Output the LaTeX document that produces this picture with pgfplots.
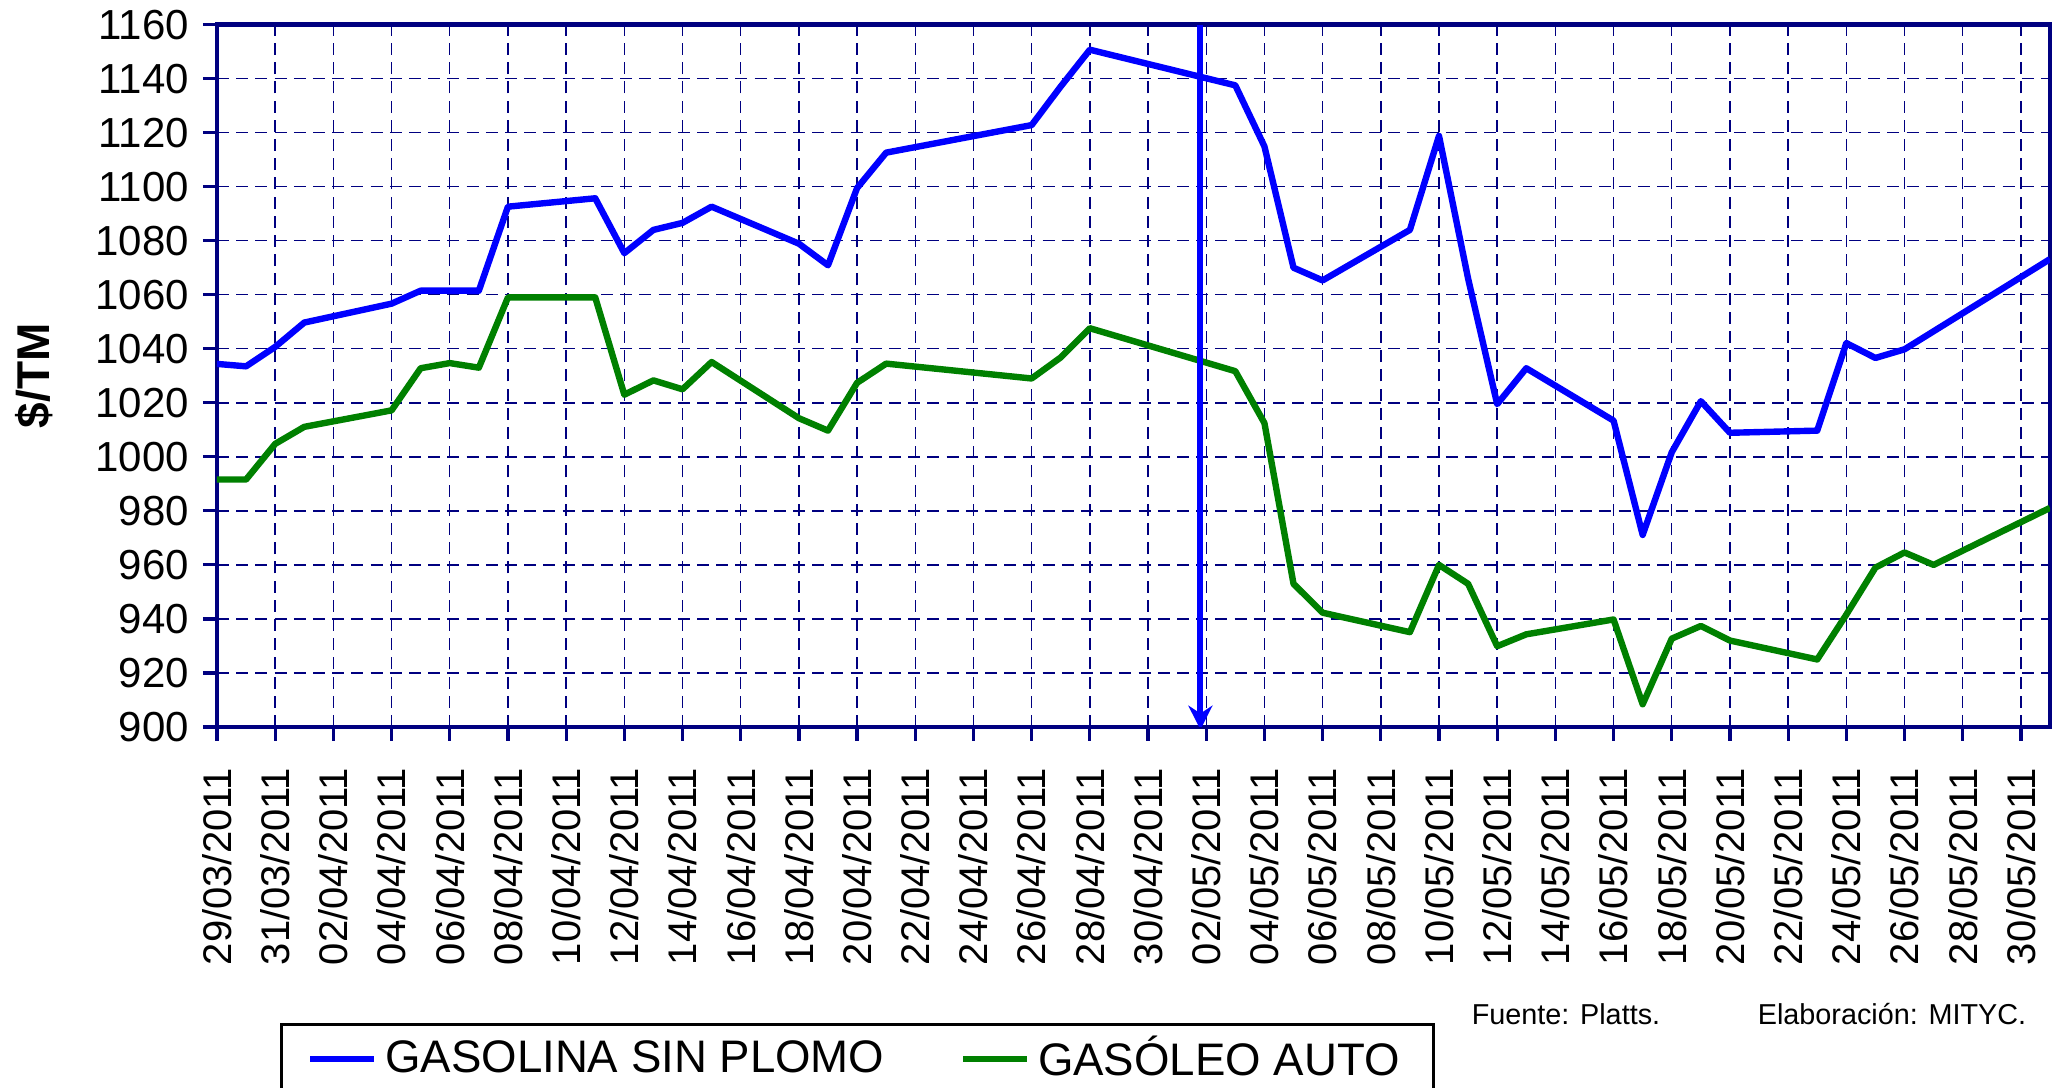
\documentclass[border=0pt]{standalone}
\usepackage{pgfplots}
\pgfplotsset{compat=1.18}
\usetikzlibrary{arrows.meta}
\usepackage{fontspec}
\setmainfont{Liberation Sans}
\definecolor{navyax}{RGB}{0,0,128}
\definecolor{gblue}{RGB}{0,0,255}
\definecolor{ggreen}{RGB}{0,128,0}

\pgfplotstableread{
day val
0 1034.4
1 1033.5
2 1040.7
3 1049.7
6 1056.7
7 1061.5
8 1061.5
9 1061.5
10 1092.6
13 1095.7
14 1075.4
15 1084.0
16 1086.6
17 1092.6
20 1078.9
21 1070.9
22 1099.5
23 1112.6
28 1122.8
29 1137.1
30 1150.7
35 1137.5
36 1114.9
37 1070.0
38 1065.3
41 1084.0
42 1118.8
43 1066.0
44 1019.5
45 1032.8
48 1013.4
49 971.1
50 1001.7
51 1020.6
52 1008.9
55 1009.7
56 1042.1
57 1036.6
58 1039.8
63 1073.2
}\gasolina

\pgfplotstableread{
day val
0 991.6
1 991.6
2 1004.8
3 1011.1
6 1017.2
7 1032.8
8 1034.7
9 1033.0
10 1059.0
13 1059.0
14 1023.0
15 1028.3
16 1025.0
17 1035.1
20 1014.3
21 1009.7
22 1027.4
23 1034.5
28 1029.0
29 1036.8
30 1047.6
35 1031.7
36 1012.5
37 953.0
38 942.3
41 935.1
42 960.0
43 953.0
44 929.9
45 934.3
48 939.8
49 908.4
50 932.7
51 937.4
52 932.0
55 925.0
56 941.6
57 959.0
58 964.6
59 960.0
63 981.1
}\gasoleo

\begin{document}
\begin{tikzpicture}
\begin{axis}[
  scale only axis,
  width=458.25pt, height=175.6pt,
  xmin=0, xmax=63, ymin=900, ymax=1160,
  xtick={0,2,...,62},
  xticklabels={29/03/2011,31/03/2011,02/04/2011,04/04/2011,06/04/2011,08/04/2011,10/04/2011,12/04/2011,14/04/2011,16/04/2011,18/04/2011,20/04/2011,22/04/2011,24/04/2011,26/04/2011,28/04/2011,30/04/2011,02/05/2011,04/05/2011,06/05/2011,08/05/2011,10/05/2011,12/05/2011,14/05/2011,16/05/2011,18/05/2011,20/05/2011,22/05/2011,24/05/2011,26/05/2011,28/05/2011,30/05/2011},
  ytick={900,920,...,1160},
  tick pos=left,
  axis line style={navyax, line width=1.1pt},
  tick style={navyax, line width=0.8pt},
  tick align=outside,
  major tick length=3.5pt,
  grid=major,
  major grid style={navyax, line width=0.35pt, dash pattern=on 3pt off 1.8pt},
  xticklabel style={rotate=90, anchor=east, font=\fontsize{10}{12}\selectfont},
  xticklabel shift=3.2pt,
  yticklabel style={font=\fontsize{10.5}{12}\selectfont},
  /pgf/number format/assume math mode=true,
  /pgf/number format/1000 sep={},
  ylabel={\$/TM},
  every axis y label/.style={at={(axis description cs:-0.1,0.5)}, anchor=center, rotate=90, font=\bfseries\fontsize{11.5}{13}\selectfont},
  legend columns=2,
  legend style={at={(0.0345,-0.4213)}, anchor=north west, draw=black, line width=0.7pt,
    font=\fontsize{11.4}{13}\selectfont, inner xsep=6.5pt, inner ysep=1pt,
    /tikz/every even column/.append style={column sep=17pt}},
  legend cell align=left,
  legend image code/.code={\draw[#1, line width=1.4pt] (0pt,0pt) -- (16pt,0pt);},
]
\addplot[gblue, line width=1.6pt, line join=round] table[x=day, y=val] {\gasolina};
\addlegendentry{GASOLINA SIN PLOMO}
\addplot[ggreen, line width=1.6pt, line join=round] table[x=day, y=val] {\gasoleo};
\addlegendentry{GASÓLEO AUTO}
\addplot[gblue, line width=1.5pt, -{Stealth[length=6pt, width=6pt]}, forget plot] coordinates {(33.8,1160) (33.8,899)};
\end{axis}
\node[anchor=base west, inner sep=0pt, font=\fontsize{7.2}{9}\selectfont] at (313.5pt,-74.5pt) {Fuente: Platts.};
\node[anchor=base west, inner sep=0pt, font=\fontsize{7.2}{9}\selectfont] at (385pt,-74.5pt) {Elaboración: MITYC.};
\pgfresetboundingbox
\path[use as bounding box] (-54.25pt,-90.25pt) rectangle (459.25pt,181.75pt);
\end{tikzpicture}
\end{document}
